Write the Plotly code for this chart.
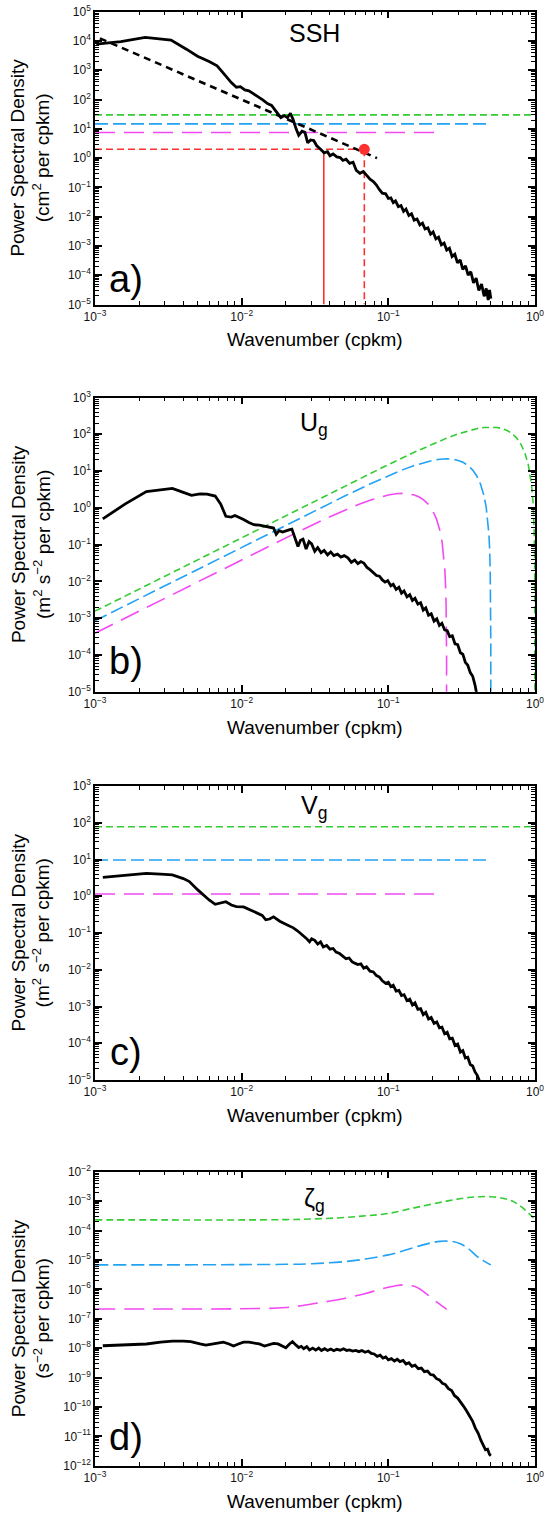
import plotly.graph_objects as go

# ---------------- data ----------------
# Panel a: SSH spectrum (wavenumber cpkm, log10 PSD cm^2/cpkm)
ssh_k = [0.00102, 0.0015, 0.0022, 0.0033, 0.0042, 0.0050, 0.0060, 0.0068, 0.0075, 0.0085, 0.0092,
         0.0098, 0.0105, 0.0112, 0.0120, 0.0130, 0.0140, 0.0150, 0.0160, 0.0170, 0.0178, 0.0185,
         0.0195, 0.0205, 0.0215, 0.0225, 0.0235, 0.0245, 0.0258, 0.0270, 0.0282, 0.0295, 0.0310,
         0.0325, 0.0345, 0.0365, 0.0385, 0.0400, 0.0420, 0.0445, 0.0470, 0.0490, 0.0515, 0.0545,
         0.0575, 0.0605, 0.0640, 0.0675, 0.0710, 0.0750, 0.0790, 0.0830, 0.0870, 0.0910, 0.0960,
         0.1000, 0.104, 0.108, 0.112, 0.117, 0.122, 0.127, 0.132, 0.138, 0.144, 0.150, 0.157, 0.164,
         0.171, 0.178, 0.186, 0.194, 0.202, 0.211, 0.220, 0.230, 0.240, 0.250, 0.261, 0.272, 0.284,
         0.296, 0.309, 0.322, 0.336, 0.350, 0.365, 0.381, 0.397, 0.414, 0.432, 0.450, 0.465, 0.480,
         0.490, 0.500]
ssh_logpsd = [3.89, 3.98, 4.12, 4.03, 3.72, 3.48, 3.30, 3.15, 2.90, 2.58, 2.42,
              2.44, 2.33, 2.30, 2.20, 2.10, 1.98, 1.86, 1.80, 1.62, 1.50, 1.38,
              1.45, 1.38, 1.53, 1.30, 1.00, 0.78, 0.92, 0.88, 0.52, 0.62, 0.60,
              0.42, 0.30, 0.18, 0.22, 0.08, 0.14, 0.04, 0.02, -0.08, -0.04, -0.18,
              -0.14, -0.42, -0.52, -0.46, -0.58, -0.72, -0.80, -0.92, -1.08, -1.20, -1.22,
              -1.38, -1.36, -1.52, -1.46, -1.66, -1.62, -1.82, -1.74, -1.96, -1.90, -2.12, -2.08, -2.28,
              -2.22, -2.42, -2.38, -2.60, -2.52, -2.76, -2.70, -2.96, -2.90, -3.14, -3.08, -3.36, -3.28,
              -3.58, -3.48, -3.80, -3.68, -4.00, -3.88, -4.26, -4.10, -4.52, -4.30, -4.72, -4.45, -4.85,
              -4.50, -4.80]
ssh_fit_k = [0.00108, 0.0837]
ssh_fit_psd = [12300.0, 1.0]
noise_levels_ssh = {"green": 30.0, "blue": 14.8, "magenta": 7.5}
noise_end_k = {"green": 1.0, "blue": 0.5, "magenta": 0.223}
red_level = 2.0
red_k_dot = 0.0686
red_k_solid = 0.0363

# Panel b: Ug spectrum
ug_k = [0.00113, 0.0016, 0.00224, 0.0028, 0.00337, 0.0040, 0.00455, 0.0052, 0.0058, 0.0066, 0.0072,
        0.0078, 0.0085, 0.0090, 0.0097, 0.0103, 0.0112, 0.0121, 0.0132, 0.0143, 0.0155, 0.0165,
        0.0172, 0.0180, 0.0190, 0.0200, 0.0210, 0.0220, 0.0232, 0.0242, 0.0252, 0.0262, 0.0275,
        0.0288, 0.0300, 0.0315, 0.0330, 0.0348, 0.0365, 0.0385, 0.0405, 0.0425, 0.0450, 0.0475,
        0.0500, 0.0530, 0.0560, 0.0590, 0.0620, 0.0650, 0.0680, 0.0715, 0.0750, 0.0790, 0.0830,
        0.0870, 0.0910, 0.095, 0.099, 0.104, 0.108, 0.113, 0.118, 0.123, 0.128, 0.134, 0.140, 0.146,
        0.152, 0.159, 0.166, 0.173, 0.180, 0.188, 0.196, 0.205, 0.214, 0.223, 0.232, 0.242, 0.252,
        0.262, 0.273, 0.285, 0.297, 0.310, 0.322, 0.335, 0.348, 0.362, 0.376, 0.390, 0.400]
ug_logpsd = [-0.30, 0.10, 0.44, 0.48, 0.53, 0.42, 0.34, 0.38, 0.37, 0.32, 0.10,
             -0.23, -0.25, -0.21, -0.26, -0.32, -0.40, -0.46, -0.47, -0.50, -0.52, -0.55,
             -0.72, -0.62, -0.66, -0.62, -0.60, -0.58, -0.85, -1.05, -0.88, -0.85, -1.12,
             -0.92, -0.98, -1.18, -1.08, -1.22, -1.16, -1.28, -1.20, -1.30, -1.26, -1.34,
             -1.30, -1.36, -1.48, -1.42, -1.52, -1.46, -1.50, -1.62, -1.68, -1.76, -1.84,
             -1.86, -1.96, -2.02, -1.98, -2.12, -2.08, -2.22, -2.16, -2.32, -2.26, -2.42, -2.36, -2.52,
             -2.46, -2.62, -2.58, -2.78, -2.72, -2.92, -2.88, -3.08, -3.02, -3.20, -3.14, -3.32, -3.34,
             -3.50, -3.48, -3.70, -3.72, -3.94, -3.98, -4.20, -4.28, -4.48, -4.58, -4.82, -5.05]
ug_green_k = [0.001, 0.002, 0.005, 0.01, 0.02, 0.05, 0.1, 0.15, 0.2, 0.25, 0.3, 0.35, 0.4, 0.45, 0.5,
              0.55, 0.6, 0.65, 0.7, 0.75, 0.8, 0.85, 0.9, 0.93, 0.95, 0.97, 0.98, 0.99, 0.995, 0.999, 1.0]
ug_green = [1.55e-3, 6.2e-3, 0.0388, 0.155, 0.619, 3.84, 15.0, 32.4, 54.3, 78.5, 102.8, 124.7, 142.1,
            153.2, 157.0, 153.2, 142.1, 124.7, 102.8, 78.5, 54.3, 32.4, 15.0, 7.47, 3.84, 1.39, 0.619,
            0.155, 0.0388, 1.55e-3, 1e-8]
ug_blue_k = [0.001, 0.003, 0.01, 0.025, 0.05, 0.075, 0.1, 0.125, 0.15, 0.175, 0.2, 0.225, 0.25, 0.275,
             0.3, 0.325, 0.35, 0.375, 0.4, 0.425, 0.45, 0.465, 0.475, 0.485, 0.49, 0.495, 0.4995, 0.5]
ug_blue = [8.5e-4, 7.65e-3, 0.0849, 0.527, 2.056, 4.44, 7.44, 10.77, 14.09, 17.09, 19.47, 21.0, 21.53,
           21.0, 19.47, 17.09, 14.09, 10.77, 7.44, 4.44, 2.056, 1.024, 0.527, 0.191, 0.0849, 0.02125,
           2.1e-4, 1e-8]
ug_mag_k = [0.001, 0.003, 0.01, 0.02, 0.025, 0.0375, 0.05, 0.0625, 0.075, 0.0875, 0.1, 0.1125, 0.125,
            0.1375, 0.15, 0.1625, 0.175, 0.1875, 0.2, 0.2125, 0.225, 0.2325, 0.2375, 0.2425, 0.245,
            0.2475, 0.2495, 0.25]
ug_mag = [3.9e-4, 3.51e-3, 0.0388, 0.1527, 0.236, 0.509, 0.853, 1.235, 1.617, 1.961, 2.234, 2.41, 2.47,
          2.41, 2.234, 1.961, 1.617, 1.235, 0.853, 0.509, 0.236, 0.1175, 0.0604, 0.0219, 9.74e-3,
          2.44e-3, 9.8e-5, 1e-8]

# Panel c: Vg spectrum
vg_k = [0.00113, 0.0016, 0.00224, 0.0028, 0.00337, 0.0040, 0.0044, 0.0050, 0.0055, 0.0060, 0.0066,
        0.0072, 0.0078, 0.0085, 0.0092, 0.0103, 0.0112, 0.0121, 0.0130, 0.0138, 0.0146, 0.0155,
        0.0165, 0.0172, 0.0182, 0.0195, 0.0210, 0.0225, 0.0240, 0.0258, 0.0275, 0.0290, 0.0300,
        0.0315, 0.0330, 0.0345, 0.0360, 0.0380, 0.0400, 0.0420, 0.0440, 0.0465, 0.0490, 0.0515,
        0.0540, 0.0565, 0.0590, 0.0620, 0.0650, 0.0680, 0.0710, 0.0750, 0.0790, 0.0830, 0.0870,
        0.0910, 0.0960, 0.100, 0.104, 0.108, 0.113, 0.118, 0.123, 0.128, 0.134, 0.140, 0.146, 0.152,
        0.159, 0.166, 0.173, 0.180, 0.188, 0.196, 0.205, 0.214, 0.223, 0.232, 0.242, 0.252, 0.262,
        0.273, 0.285, 0.297, 0.310, 0.322, 0.335, 0.348, 0.362, 0.376, 0.390, 0.405, 0.420]
vg_logpsd = [0.515, 0.57, 0.62, 0.60, 0.58, 0.48, 0.40, 0.18, 0.02, -0.10, -0.22,
             -0.18, -0.15, -0.24, -0.28, -0.29, -0.36, -0.42, -0.47, -0.52, -0.64, -0.62,
             -0.56, -0.62, -0.68, -0.74, -0.80, -0.86, -0.94, -1.04, -1.14, -1.24, -1.16,
             -1.20, -1.30, -1.24, -1.38, -1.34, -1.44, -1.42, -1.52, -1.56, -1.64, -1.70,
             -1.68, -1.78, -1.82, -1.86, -1.84, -1.96, -1.92, -2.04, -2.06, -2.16, -2.20,
             -2.30, -2.37, -2.34, -2.46, -2.42, -2.58, -2.56, -2.70, -2.68, -2.84, -2.80, -2.96, -2.90,
             -3.08, -3.06, -3.22, -3.16, -3.34, -3.30, -3.46, -3.42, -3.58, -3.56, -3.74, -3.70, -3.88,
             -3.86, -4.06, -4.02, -4.24, -4.20, -4.40, -4.38, -4.58, -4.62, -4.78, -4.88, -5.05]
noise_levels_vg = {"green": 78.0, "blue": 9.7, "magenta": 1.15}

# Panel d: zeta_g spectrum
zg_k = [0.00113, 0.0016, 0.00224, 0.0028, 0.00337, 0.0040, 0.0045, 0.0052, 0.0057, 0.0064, 0.0070,
        0.0075, 0.0082, 0.0088, 0.0095, 0.0103, 0.0112, 0.0122, 0.0132, 0.0143, 0.0155, 0.0165,
        0.0177, 0.0190, 0.0200, 0.0212, 0.0222, 0.0235, 0.0245, 0.0255, 0.0265, 0.0278, 0.0290,
        0.0305, 0.0320, 0.0335, 0.0350, 0.0368, 0.0385, 0.0405, 0.0425, 0.0445, 0.0470, 0.0495,
        0.0520, 0.0545, 0.0570, 0.0600, 0.0630, 0.0660, 0.0695, 0.0730, 0.0765, 0.0800, 0.0840,
        0.0880, 0.0920, 0.0960, 0.1000, 0.105, 0.110, 0.115, 0.120, 0.126, 0.132, 0.138, 0.145,
        0.152, 0.160, 0.168, 0.176, 0.185, 0.194, 0.203, 0.213, 0.223, 0.234, 0.245, 0.257, 0.270,
        0.283, 0.297, 0.311, 0.326, 0.342, 0.358, 0.375, 0.392, 0.410, 0.428, 0.445, 0.460, 0.475,
        0.490, 0.500]
zg_logpsd = [-7.92, -7.90, -7.86, -7.80, -7.76, -7.76, -7.78, -7.86, -7.90, -7.86, -7.82,
             -7.80, -7.86, -7.93, -7.86, -7.80, -7.80, -7.82, -7.86, -7.93, -7.88, -7.84,
             -7.86, -7.92, -7.99, -7.86, -7.78, -7.90, -7.98, -7.94, -8.02, -7.95, -8.06,
             -8.00, -8.07, -8.00, -8.08, -8.02, -8.08, -8.03, -8.09, -8.04, -8.07, -8.02,
             -8.08, -8.06, -8.10, -8.08, -8.12, -8.08, -8.14, -8.10, -8.18, -8.20, -8.28,
             -8.24, -8.34, -8.30, -8.40, -8.36, -8.44, -8.38, -8.46, -8.42, -8.54, -8.50, -8.62,
             -8.58, -8.70, -8.68, -8.80, -8.78, -8.90, -8.92, -9.04, -9.08, -9.20, -9.24, -9.38, -9.44,
             -9.62, -9.70, -9.86, -9.98, -10.14, -10.30, -10.48, -10.72, -10.90, -11.14, -11.30, -11.46,
             -11.44, -11.62, -11.66]
zg_green_k = [0.001, 0.003, 0.01, 0.02, 0.03, 0.05, 0.07, 0.1, 0.15, 0.2, 0.25, 0.3, 0.35, 0.42, 0.5,
              0.6, 0.7, 0.8, 0.9, 1.0]
zg_green_log = [-3.64, -3.64, -3.64, -3.63, -3.61, -3.56, -3.50, -3.42, -3.23, -3.10, -3.00, -2.93,
                -2.88, -2.85, -2.85, -2.90, -3.00, -3.18, -3.40, -3.62]
zg_blue_k = [0.001, 0.003, 0.01, 0.02, 0.03, 0.05, 0.07, 0.1, 0.125, 0.15, 0.175, 0.2, 0.225, 0.25,
             0.28, 0.31, 0.35, 0.4, 0.45, 0.5]
zg_blue_log = [-5.17, -5.17, -5.16, -5.15, -5.13, -5.06, -4.97, -4.83, -4.70, -4.58, -4.48, -4.41,
               -4.37, -4.36, -4.38, -4.45, -4.61, -4.87, -5.04, -5.17]
zg_mag_k = [0.001, 0.003, 0.01, 0.02, 0.03, 0.04, 0.05, 0.07, 0.085, 0.1, 0.115, 0.13, 0.15, 0.165,
            0.18, 0.2, 0.22, 0.25]
zg_mag_log = [-6.67, -6.67, -6.66, -6.62, -6.50, -6.40, -6.31, -6.14, -6.02, -5.93, -5.87, -5.85,
              -5.90, -6.00, -6.14, -6.32, -6.48, -6.68]

x_decades = [-3, -2, -1, 0]
panel_titles = ["SSH", "U<sub>g</sub>", "V<sub>g</sub>", "ζ<sub>g</sub>"]
panel_letters = ["a)", "b)", "c)", "d)"]
y_units = ["(cm<sup>2</sup> per cpkm)", "(m<sup>2</sup> s<sup>−2</sup> per cpkm)",
           "(m<sup>2</sup> s<sup>−2</sup> per cpkm)", "(s<sup>−2</sup> per cpkm)"]
y_ranges = [(-5, 5), (-5, 3), (-5, 3), (-12, -2)]

# ---------------- styling ----------------
W, H = 545, 1514
FONT = "Liberation Sans, Arial, Helvetica, sans-serif"
GREEN = "#33cc33"
BLUE = "#22a2f2"
MAGENTA = "#f24af2"
RED = "#ff3030"
dash_g = "7px,4px"
dash_b = "13px,5px"
dash_m = "20px,9px"
dash_r = "7px,4px"

x_left, x_right = 95, 535
panel_px = [(11.7, 304.5), (397.5, 691.7), (786, 1080), (1171.7, 1465.7)]
title_off = [21.5, 26.0, 20.5, 28.0]
letter_off = [26, 31, 28, 29]


def px2x(p):
    return p / W


def px2y(p):
    return 1 - p / H


def pw(vals):
    return [10 ** v for v in vals]


def major_ticks(exps):
    vals = [10.0 ** e for e in exps]
    txt = ["10<sup>%s</sup>" % str(e).replace("-", "−") for e in exps]
    return vals, txt


def minor_ticks(lo, hi):
    return [m * 10.0 ** e for e in range(lo, hi) for m in range(2, 10)]


fig = go.Figure()
xv, xt = major_ticks(x_decades)

for i in range(4):
    n = "" if i == 0 else str(i + 1)
    top, bot = panel_px[i]
    lo, hi = y_ranges[i]
    yv, yt = major_ticks(list(range(lo, hi + 1)))
    common = dict(type="log", showline=True, linecolor="black", linewidth=1.5, mirror="allticks",
                  ticks="inside", ticklen=7, tickwidth=1.6, tickcolor="black", showgrid=False,
                  zeroline=False, tickfont=dict(family=FONT, size=12, color="#111"),
                  tickmode="array", automargin=False)
    fig.layout["xaxis" + n] = dict(common, domain=[px2x(x_left), px2x(x_right)], range=[-3, 0],
                                   tickvals=xv, ticktext=xt, anchor="y" + n,
                                   minor=dict(ticks="inside", ticklen=4, tickwidth=1,
                                              tickcolor="black", showgrid=False, tickmode="array",
                                              tickvals=minor_ticks(-3, 0)))
    fig.layout["yaxis" + n] = dict(common, domain=[px2y(bot), px2y(top)], range=[lo, hi],
                                   tickvals=yv, ticktext=yt, anchor="x" + n,
                                   minor=dict(ticks="inside", ticklen=4, tickwidth=1,
                                              tickcolor="black", showgrid=False, tickmode="array",
                                              tickvals=minor_ticks(lo, hi)))
    cx = px2x((x_left + x_right) / 2)
    fig.add_annotation(text=panel_titles[i], x=px2x(314), y=px2y(top + title_off[i]), xref="paper",
                       yref="paper", showarrow=False, font=dict(family=FONT, size=25, color="black"),
                       xanchor="center", yanchor="middle")
    fig.add_annotation(text=panel_letters[i], x=px2x(126), y=px2y(bot - letter_off[i]), xref="paper",
                       yref="paper", showarrow=False, font=dict(family=FONT, size=38, color="black"),
                       xanchor="center", yanchor="middle")
    fig.add_annotation(text="Wavenumber (cpkm)", x=cx, y=px2y(bot + 35.5), xref="paper", yref="paper",
                       showarrow=False, font=dict(family=FONT, size=19, color="black"),
                       xanchor="center", yanchor="middle")
    fig.add_annotation(text="Power Spectral Density<br>" + y_units[i], x=px2x(30.5),
                       y=px2y((top + bot) / 2), xref="paper", yref="paper", showarrow=False,
                       textangle=-90, font=dict(family=FONT, size=19, color="black"),
                       xanchor="center", yanchor="middle")


def add(x, y, i, color, width, dash="solid", mode="lines", shape="linear", **kw):
    n = "" if i == 0 else str(i + 1)
    fig.add_trace(go.Scatter(x=x, y=y, mode=mode, xaxis="x" + n, yaxis="y" + n,
                             line=dict(color=color, width=width, dash=dash, shape=shape),
                             showlegend=False, hoverinfo="skip", **kw))


# Panel a
for name, col, dsh in [("green", GREEN, dash_g), ("blue", BLUE, dash_b), ("magenta", MAGENTA, dash_m)]:
    lvl = noise_levels_ssh[name]
    add([0.001, noise_end_k[name]], [lvl, lvl], 0, col, 1.6, dsh)
add([0.001, red_k_dot], [red_level, red_level], 0, RED, 1.6, dash_r)
add([red_k_dot, red_k_dot], [red_level, 1e-5], 0, RED, 1.6, dash_r)
add([red_k_solid, red_k_solid], [red_level * 0.9, 1e-5], 0, RED, 1.6)
add(ssh_k, pw(ssh_logpsd), 0, "black", 2.8)
add(ssh_fit_k, ssh_fit_psd, 0, "black", 2.6, "7px,5px")
add([red_k_dot], [red_level], 0, RED, 1, mode="markers", marker=dict(color=RED, size=11))

# Panel b
add(ug_green_k, ug_green, 1, GREEN, 1.6, dash_g)
add(ug_blue_k, ug_blue, 1, BLUE, 1.6, dash_b)
add(ug_mag_k, ug_mag, 1, MAGENTA, 1.6, dash_m)
add(ug_k, pw(ug_logpsd), 1, "black", 2.8)

# Panel c
for name, col, dsh in [("green", GREEN, dash_g), ("blue", BLUE, dash_b), ("magenta", MAGENTA, dash_m)]:
    lvl = noise_levels_vg[name]
    add([0.001, noise_end_k[name]], [lvl, lvl], 2, col, 1.6, dsh)
add(vg_k, pw(vg_logpsd), 2, "black", 2.8)

# Panel d
add(zg_green_k, pw(zg_green_log), 3, GREEN, 1.6, dash_g, shape="spline")
add(zg_blue_k, pw(zg_blue_log), 3, BLUE, 1.6, dash_b, shape="spline")
add(zg_mag_k, pw(zg_mag_log), 3, MAGENTA, 1.6, dash_m, shape="spline")
add(zg_k, pw(zg_logpsd), 3, "black", 2.8)

fig.update_layout(width=W, height=H, margin=dict(l=0, r=0, t=0, b=0), paper_bgcolor="white",
                  plot_bgcolor="white", showlegend=False, font=dict(family=FONT))

fig.write_html("out.html")
